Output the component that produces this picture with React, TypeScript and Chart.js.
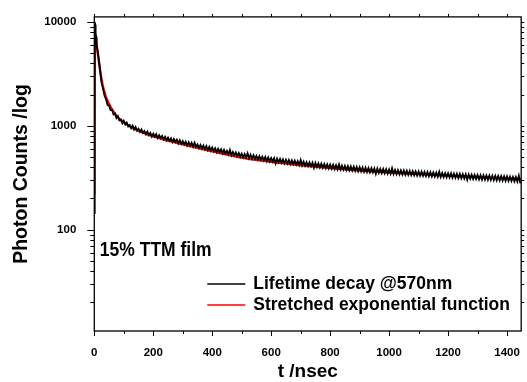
import React, { useEffect, useRef } from "react";
import { Chart, registerables } from "chart.js";

Chart.register(...registerables);

const FONT = "'Liberation Sans', Arial, Helvetica, sans-serif";

// X axis (t / nsec)
const X_MIN = 0;
const X_MAX = 1448;
const X_LABEL_TICKS = [0, 200, 400, 600, 800, 1000, 1200, 1400];
const X_ALL_TICKS = [0, 100, 200, 300, 400, 500, 600, 700, 800, 900, 1000, 1100, 1200, 1300, 1400];

// Y axis (photon counts, log)
const Y_MIN = 10.6;
const Y_MAX = 11200;
const Y_LABEL_TICKS = [100, 1000, 10000];
const Y_MINOR_TICKS = [20, 30, 40, 50, 60, 70, 80, 90, 200, 300, 400, 500, 600, 700, 800, 900, 2000, 3000, 4000, 5000, 6000, 7000, 8000, 9000];

// Measured decay (black): rise region, 1 ns channels
const DECAY_EARLY_T = [0, 1, 2, 3, 4, 5, 6, 7, 8, 9, 10];
const DECAY_EARLY = [145, 2500, 10000, 9400, 8600, 7900, 7200, 6700, 6300, 5900, 5500];
// Measured decay (black): from 15 ns on, every 5 ns
const DECAY_START_T = 15;
const DECAY_STEP_T = 5;
const DECAY = [
  4400, 3350, 2580, 2270, 1940, 1800, 1590, 1570, 1420, 1430, 1290, 1320, 1190, 1240, 1130, 1150, 1060, 1120, 1030, 1075,
  990, 1020, 950, 1005, 925, 975, 900, 940, 875, 925, 858, 895, 830, 880, 815, 860, 790, 842, 790, 835,
  765, 812, 760, 800, 742, 785, 725, 772, 718, 760, 700, 748, 702, 738, 680, 728, 672, 715, 662, 705,
  648, 696, 645, 688, 630, 690, 628, 662, 612, 655, 604, 648, 596, 640, 585, 628, 580, 620, 572, 610,
  560, 602, 556, 596, 545, 588, 540, 575, 532, 585, 523, 562, 520, 555, 512, 548, 505, 540, 498, 536,
  494, 545, 488, 528, 482, 522, 480, 515, 474, 512, 470, 505, 465, 502, 458, 496, 455, 490, 452, 488,
  435, 484, 445, 480, 440, 476, 437, 473, 434, 470, 430, 466, 428, 462, 424, 458, 420, 470, 417, 452,
  414, 448, 410, 445, 408, 442, 395, 440, 402, 436, 398, 433, 396, 430, 392, 427, 390, 424, 388, 422,
  384, 419, 382, 425, 380, 414, 378, 412, 375, 409, 373, 407, 371, 405, 369, 402, 366, 400, 365, 398,
  362, 396, 360, 394, 358, 392, 357, 390, 345, 388, 353, 386, 351, 384, 349, 382, 347, 380, 346, 390,
  344, 376, 343, 375, 341, 373, 340, 372, 338, 370, 337, 368, 336, 367, 334, 365, 333, 364, 331, 362,
  330, 361, 329, 360, 327, 358, 326, 357, 325, 355, 324, 362, 322, 353, 321, 351, 320, 350, 318, 349,
  317, 347, 316, 346, 314, 345, 313, 343, 312, 342, 302, 340, 309, 339, 308, 337, 307, 336, 305, 335,
  304, 334, 303, 333, 302, 332, 301, 331, 300, 330, 299, 329, 298, 328, 297, 327, 296, 326, 295, 324,
  294, 322, 292, 321, 291, 330, 280,
];

// Stretched exponential fit (red)
const FIT_T = [0, 2, 5, 8, 12, 16, 20, 25, 30, 35, 40, 50, 60, 70, 80, 90, 100, 120, 140, 160, 180, 200, 250, 300, 350, 400, 450, 500, 600, 700, 800, 900, 1000, 1100, 1200, 1300, 1448];
const FIT = [220, 7700, 6900, 6000, 5000, 4100, 3400, 2750, 2350, 2080, 1880, 1620, 1440, 1310, 1210, 1140, 1085, 990, 922, 870, 830, 795, 720, 665, 615, 570, 530, 495, 450, 418, 392, 372, 356, 343, 332, 322, 308];

const SERIES_LABELS = ["Lifetime decay @570nm", "Stretched exponential function"];
const SERIES_COLORS = ["#000000", "#ff0000"];
const SAMPLE_LABEL = "15% TTM film";

const decayPoints = [
  ...DECAY_EARLY_T.map((t, i) => ({ x: t, y: DECAY_EARLY[i] })),
  ...DECAY.map((v, i) => ({ x: DECAY_START_T + i * DECAY_STEP_T, y: v })),
];
const fitPoints = FIT_T.map((t, i) => ({ x: t, y: FIT[i] }));

function tallText(ctx: CanvasRenderingContext2D, text: string, x: number, y: number, sy: number) {
  ctx.save();
  ctx.translate(x, y);
  ctx.scale(1, sy);
  ctx.fillText(text, 0, 0);
  ctx.restore();
}

const framePlugin = {
  id: "frameAndNotes",
  afterDatasetsDraw(chart: any) {
    const { ctx, chartArea: a, scales } = chart;
    const xs = scales.x;
    const ys = scales.y;
    ctx.save();
    ctx.strokeStyle = "#000";
    ctx.lineWidth = 1.3;
    ctx.strokeRect(a.left, a.top, a.right - a.left, a.bottom - a.top);
    ctx.lineWidth = 1;
    ctx.beginPath();
    for (const t of X_ALL_TICKS) {
      const px = Math.round(xs.getPixelForValue(t)) + 0.5;
      const major = X_LABEL_TICKS.includes(t);
      ctx.moveTo(px, a.bottom);
      ctx.lineTo(px, a.bottom + (major ? 5 : 3));
      ctx.moveTo(px, a.top);
      ctx.lineTo(px, a.top - 3);
    }
    const yAll = [...Y_LABEL_TICKS, ...Y_MINOR_TICKS];
    for (const v of yAll) {
      const py = Math.round(ys.getPixelForValue(v)) + 0.5;
      if (py < a.top - 0.5 || py > a.bottom + 0.5) continue;
      const major = Y_LABEL_TICKS.includes(v);
      ctx.moveTo(a.left, py);
      ctx.lineTo(a.left - (major ? 7 : 4), py);
      ctx.moveTo(a.right, py);
      ctx.lineTo(a.right + 3, py);
    }
    ctx.stroke();

    // sample label
    ctx.fillStyle = "#000";
    ctx.textBaseline = "middle";
    ctx.textAlign = "left";
    ctx.font = `bold 17.5px ${FONT}`;
    tallText(ctx, SAMPLE_LABEL, a.left + 5.5, a.top + 234, 1.14);

    // legend
    const ds = chart.data.datasets;
    const lx0 = a.left + 113;
    const lx1 = a.left + 151;
    const rows = [a.top + 267, a.top + 288];
    ds.forEach((d: any, i: number) => {
      ctx.strokeStyle = d.borderColor;
      ctx.lineWidth = 1.5;
      ctx.beginPath();
      ctx.moveTo(lx0, rows[i]);
      ctx.lineTo(lx1, rows[i]);
      ctx.stroke();
      ctx.fillStyle = "#000";
      ctx.font = `bold 17.5px ${FONT}`;
      tallText(ctx, d.label, a.left + 159, rows[i], 1.08);
    });
    ctx.restore();
  },
};

export default function App() {
  const ref = useRef<HTMLCanvasElement | null>(null);
  useEffect(() => {
    if (!ref.current) return;
    const chart = new Chart(ref.current, {
      type: "line",
      data: {
        datasets: [
          {
            label: SERIES_LABELS[0],
            data: decayPoints,
            borderColor: SERIES_COLORS[0],
            backgroundColor: SERIES_COLORS[0],
            borderWidth: 1.8,
            pointRadius: 0,
            tension: 0,
          },
          {
            label: SERIES_LABELS[1],
            data: fitPoints,
            borderColor: SERIES_COLORS[1],
            backgroundColor: SERIES_COLORS[1],
            borderWidth: 2.4,
            pointRadius: 0,
            cubicInterpolationMode: "monotone",
          },
        ],
      },
      options: {
        animation: false,
        responsive: false,
        devicePixelRatio: 1,
        layout: { padding: { top: 15, right: 5, left: 0, bottom: 0 } },
        plugins: { legend: { display: false }, tooltip: { enabled: false } },
        scales: {
          x: {
            type: "linear",
            position: "bottom",
            min: X_MIN,
            max: X_MAX,
            grid: { display: false },
            border: { display: false },
            afterBuildTicks: (s: any) => {
              s.ticks = X_LABEL_TICKS.map((v) => ({ value: v }));
            },
            afterFit: (s: any) => {
              s.height = 51;
            },
            ticks: {
              autoSkip: false,
              maxRotation: 0,
              padding: 7,
              color: "#000",
              font: { family: FONT, size: 11.5, weight: "bold" },
              callback: (v: any) => String(v),
            },
            title: {
              display: true,
              text: "t /nsec",
              color: "#000",
              font: { family: FONT, size: 19, weight: "bold", lineHeight: 1 },
              padding: { top: 0, bottom: 0.5 },
            },
          },
          y: {
            type: "logarithmic",
            position: "left",
            min: Y_MIN,
            max: Y_MAX,
            grid: { display: false },
            border: { display: false },
            afterBuildTicks: (s: any) => {
              s.ticks = Y_LABEL_TICKS.map((v) => ({ value: v }));
            },
            afterFit: (s: any) => {
              s.width = 94.3;
            },
            ticks: {
              padding: 10,
              color: "#000",
              font: { family: FONT, size: 11.5, weight: "bold" },
              callback: (v: any) => String(v),
            },
            title: {
              display: true,
              text: "Photon Counts /log",
              color: "#000",
              font: { family: FONT, size: 19.5, weight: "bold", lineHeight: 1 },
              padding: { top: 12, bottom: 0 },
            },
          },
        },
      },
      plugins: [framePlugin],
    } as any);
    return () => chart.destroy();
  }, []);
  return (
    <div style={{ position: "fixed", left: 0, top: 0, width: 527, height: 382, background: "#fff" }}>
      <canvas ref={ref} width={527} height={382} style={{ display: "block" }} />
    </div>
  );
}
